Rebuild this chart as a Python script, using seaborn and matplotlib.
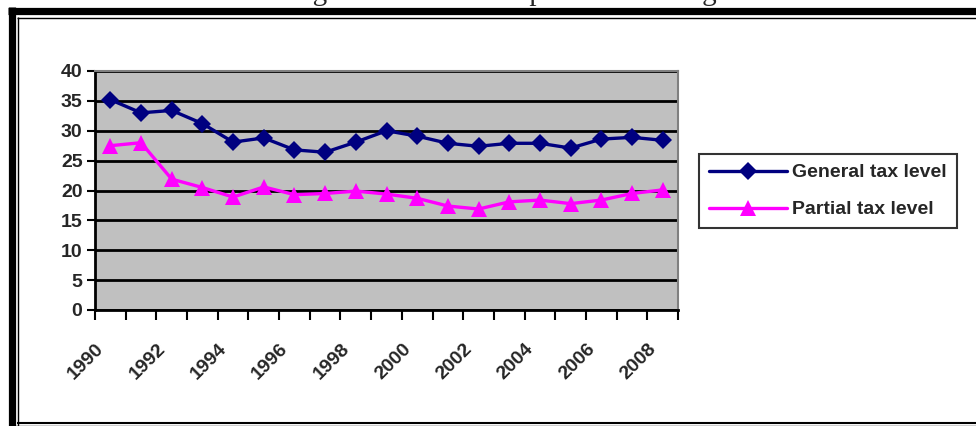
import numpy as np
import pandas as pd
import matplotlib
matplotlib.use("Agg")
import matplotlib.pyplot as plt
import matplotlib.transforms as mtransforms
from matplotlib.lines import Line2D
import seaborn as sns

# Datos
years = list(range(1990, 2009))
general_tax = [35.2, 33.0, 33.4, 31.2, 28.1, 28.8, 26.8, 26.4, 28.1, 30.0,
               29.1, 27.9, 27.4, 27.9, 27.9, 27.1, 28.6, 28.9, 28.4]
partial_tax = [27.5, 28.0, 21.9, 20.5, 18.9, 20.6, 19.3, 19.5, 19.9, 19.4,
               18.7, 17.4, 16.9, 18.1, 18.4, 17.8, 18.4, 19.5, 20.1]
series_names = ["General tax level", "Partial tax level"]
y_ticks = [0, 5, 10, 15, 20, 25, 30, 35, 40]

df = pd.DataFrame({"pos": np.arange(len(years)),
                   series_names[0]: general_tax,
                   series_names[1]: partial_tax})
df_long = df.melt(id_vars="pos", var_name="serie", value_name="valor")

sns.set_style("white")
plt.rcParams["font.family"] = ["Liberation Sans", "DejaVu Sans"]

W, H = 976, 426
fig = plt.figure(figsize=(W / 100, H / 100), dpi=100)
ax = fig.add_axes([95 / W, 1 - 310 / H, (678 - 95) / W, (310 - 71) / H])
ax.set_facecolor("#c0c0c0")

palette = {series_names[0]: "#000080", series_names[1]: "#ff00ff"}
sns.lineplot(data=df_long, x="pos", y="valor", hue="serie", style="serie",
             palette=palette, markers={series_names[0]: "D", series_names[1]: "^"},
             dashes=False, ax=ax, legend=False, zorder=3)
lines = ax.get_lines()
lines[0].set_linewidth(2.4)
lines[0].set_markersize(9)
lines[1].set_linewidth(2.4)
lines[1].set_markersize(11.5)
for ln in lines:
    ln.set_markeredgewidth(0)

ax.set_xlim(-0.5, len(years) - 0.5)
ax.set_ylim(0, 40)
ax.set_yticks(y_ticks)
ax.set_yticklabels([str(v) for v in y_ticks], fontsize=14, fontweight="bold")
ax.yaxis.grid(True, color="black", linewidth=2)
ax.set_axisbelow(True)

# etiquetas del eje x en los anos pares, marcas en los limites de categoria
ax.set_xticks(np.arange(0, len(years), 2))
ax.set_xticklabels([str(y) for y in years[::2]], fontsize=14, fontweight="bold",
                   rotation=45, ha="right", va="center", rotation_mode="anchor")
ax.set_xticks(np.arange(-0.5, len(years), 1), minor=True)
ax.tick_params(axis="x", which="major", length=0, pad=26)
ax.tick_params(axis="x", which="minor", length=7, width=1.5, direction="out",
               color="black", bottom=True)
ax.tick_params(axis="y", length=6, width=1.5, direction="out", color="black",
               left=True, pad=3)
offset = mtransforms.ScaledTranslation(-9 / 100, 0, fig.dpi_scale_trans)
for lbl in ax.get_xticklabels():
    lbl.set_transform(lbl.get_transform() + offset)
ax.set_xlabel("")
ax.set_ylabel("")

for side in ["left", "bottom"]:
    ax.spines[side].set_color("black")
    ax.spines[side].set_linewidth(2)
for side in ["top", "right"]:
    ax.spines[side].set_color("#808080")
    ax.spines[side].set_linewidth(1.5)

handles = [Line2D([], [], color="#000080", lw=2.4, marker="D", markersize=9,
                  markeredgewidth=0),
           Line2D([], [], color="#ff00ff", lw=2.4, marker="^", markersize=11.5,
                  markeredgewidth=0)]
leg = fig.legend(handles, series_names, loc="upper left",
                 bbox_to_anchor=(699 / W, 1 - 154 / H), borderaxespad=0,
                 frameon=True, fancybox=False, handlelength=4.0,
                 handletextpad=0.3, borderpad=0.5, labelspacing=1.0,
                 prop={"size": 14, "weight": "bold"})
leg.get_frame().set_edgecolor("black")
leg.get_frame().set_linewidth(1.5)

# marco doble alrededor de la figura
def px_line(x0, y0, x1, y1, lw):
    fig.add_artist(Line2D([x0 / W, x1 / W], [1 - y0 / H, 1 - y1 / H],
                          color="black", linewidth=lw, solid_capstyle="butt"))

px_line(8, 10.5, W, 10.5, 5.2)
px_line(11.5, 7, 11.5, H, 5.2)
px_line(17, 17.5, W, 17.5, 1)
px_line(17.5, 17, 17.5, H, 1)
px_line(17, 422.5, W, 422.5, 1.5)
px_line(11.5, 425.5, W, 425.5, 1)

# texto del documento cortado arriba
fig.text(100 / W, 1.0, "variation of the degree of taxation is presented in Figure 1.",
         fontsize=21, family="Liberation Serif", va="baseline", ha="left")

fig.savefig("out.png", dpi=100)
